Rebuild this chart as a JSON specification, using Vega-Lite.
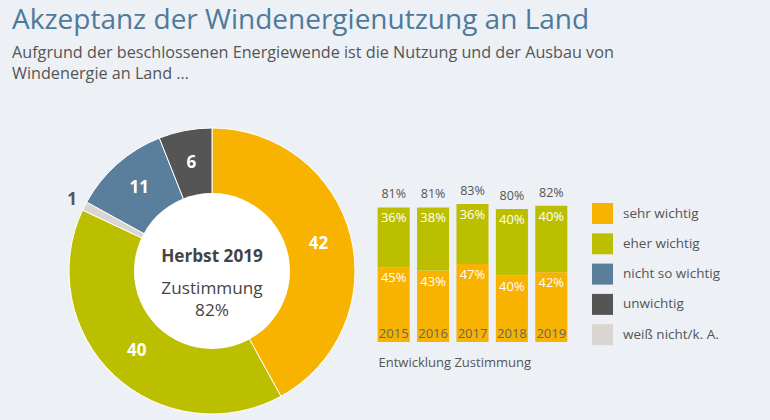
{
  "$schema": "https://vega.github.io/schema/vega-lite/v6.json",
  "background": "#edf0f5",
  "padding": {"left": 12, "top": 7, "right": 60, "bottom": 6},
  "autosize": {"type": "pad"},
  "title": {
    "text": "Akzeptanz der Windenergienutzung an Land",
    "subtitle": ["Aufgrund der beschlossenen Energiewende ist die Nutzung und der Ausbau von", "Windenergie an Land …"],
    "anchor": "start",
    "dx": -40,
    "font": "Open Sans",
    "fontSize": 28,
    "fontWeight": 400,
    "color": "#4e7a9b",
    "subtitleFont": "Open Sans",
    "subtitleFontSize": 16.2,
    "subtitleColor": "#555555",
    "subtitleLineHeight": 21.5,
    "subtitlePadding": 9.4,
    "offset": 25.5
  },
  "spacing": 0,
  "config": {"view": {"stroke": null}, "text": {"font": "Open Sans"}},
  "resolve": {"scale": {"color": "independent"}},
  "hconcat": [
    {
      "width": 320,
      "height": 290,
      "data": {"values": [
        {"category": "sehr wichtig", "value": 42, "rank": 1},
        {"category": "eher wichtig", "value": 40, "rank": 2},
        {"category": "weiß nicht/k. A.", "value": 1, "rank": 3},
        {"category": "nicht so wichtig", "value": 11, "rank": 4},
        {"category": "unwichtig", "value": 6, "rank": 5}
      ]},
      "layer": [
        {
          "mark": {"type": "arc", "outerRadius": 143, "stroke": "#ffffff", "strokeWidth": 1},
          "encoding": {
            "theta": {"field": "value", "type": "quantitative", "stack": true},
            "order": {"field": "rank", "type": "quantitative"},
            "color": {"field": "category", "type": "nominal", "legend": null,
              "scale": {"domain": ["sehr wichtig", "eher wichtig", "nicht so wichtig", "unwichtig", "weiß nicht/k. A."],
                        "range": ["#f8b200", "#bcbf00", "#5a7f9c", "#555556", "#d9d5d1"]}}
          }
        },
        {
          "data": {"values": [{"disc": 1}]},
          "mark": {"type": "arc", "radius": 78, "theta": 0, "theta2": 6.2832, "fill": "#ffffff"},
          "encoding": {}
        },
        {
          "mark": {"type": "text", "radius": 110, "fontSize": 17, "fontWeight": "bold", "fill": "#ffffff"},
          "encoding": {
            "theta": {"field": "value", "type": "quantitative", "stack": true},
            "order": {"field": "rank", "type": "quantitative"},
            "text": {"field": "value", "type": "quantitative"},
            "opacity": {"condition": {"test": "datum.value > 1", "value": 1}, "value": 0}
          }
        },
        {
          "mark": {"type": "text", "radius": 157, "fontSize": 17, "fontWeight": "bold", "fill": "#555555"},
          "encoding": {
            "theta": {"field": "value", "type": "quantitative", "stack": true},
            "order": {"field": "rank", "type": "quantitative"},
            "text": {"field": "value", "type": "quantitative"},
            "opacity": {"condition": {"test": "datum.value <= 1", "value": 1}, "value": 0}
          }
        },
        {
          "data": {"values": [{"line": "Herbst 2019"}]},
          "mark": {"type": "text", "fontSize": 17.2, "fontWeight": "bold", "fill": "#444444", "dy": -14},
          "encoding": {"text": {"field": "line", "type": "nominal"}}
        },
        {
          "data": {"values": [{"line": "Zustimmung"}]},
          "mark": {"type": "text", "fontSize": 17.2, "fill": "#444444", "dy": 18},
          "encoding": {"text": {"field": "line", "type": "nominal"}}
        },
        {
          "data": {"values": [{"line": "82%"}]},
          "mark": {"type": "text", "fontSize": 17.2, "fill": "#444444", "dy": 40},
          "encoding": {"text": {"field": "line", "type": "nominal"}}
        }
      ]
    },
    {
      "width": 197,
      "height": 216,
      "data": {"values": [
        {"year": "2015", "category": "sehr wichtig", "value": 0.45},
        {"year": "2015", "category": "eher wichtig", "value": 0.36},
        {"year": "2016", "category": "sehr wichtig", "value": 0.43},
        {"year": "2016", "category": "eher wichtig", "value": 0.38},
        {"year": "2017", "category": "sehr wichtig", "value": 0.47},
        {"year": "2017", "category": "eher wichtig", "value": 0.36},
        {"year": "2018", "category": "sehr wichtig", "value": 0.40},
        {"year": "2018", "category": "eher wichtig", "value": 0.40},
        {"year": "2019", "category": "sehr wichtig", "value": 0.42},
        {"year": "2019", "category": "eher wichtig", "value": 0.40}
      ]},
      "encoding": {
        "x": {"field": "year", "type": "ordinal",
          "scale": {"paddingInner": 0.186, "paddingOuter": 0.093},
          "axis": {"labels": false, "ticks": false, "domain": false, "title": "Entwicklung Zustimmung",
                   "titleAnchor": "start", "titleAlign": "left", "titleX": 4, "titlePadding": 14,
                   "titleFont": "Open Sans", "titleFontSize": 13, "titleFontWeight": 400, "titleColor": "#555555"}}
      },
      "layer": [
        {
          "mark": {"type": "bar"},
          "encoding": {
            "y": {"field": "value", "type": "quantitative", "stack": "zero", "scale": {"domain": [0, 1.254]}, "axis": null},
            "order": {"field": "category", "sort": "descending"},
            "color": {"field": "category", "type": "nominal",
              "scale": {"domain": ["sehr wichtig", "eher wichtig", "nicht so wichtig", "unwichtig", "weiß nicht/k. A."],
                        "range": ["#f8b200", "#bcbf00", "#5a7f9c", "#555556", "#d9d5d1"]},
              "legend": {"orient": "none", "legendX": 218, "legendY": 77, "title": null,
                         "symbolType": "square", "symbolSize": 441, "symbolStrokeWidth": 0, "symbolOpacity": 1,
                         "labelFont": "Open Sans", "labelFontSize": 13.5, "labelColor": "#555555",
                         "labelOffset": 10, "rowPadding": 9.3, "padding": 0}}
          }
        },
        {
          "mark": {"type": "text", "dy": 11, "fontSize": 13, "fill": "#ffffff"},
          "encoding": {
            "y": {"field": "value", "type": "quantitative", "stack": "zero"},
            "order": {"field": "category", "sort": "descending"},
            "detail": {"field": "category"},
            "text": {"field": "value", "type": "quantitative", "format": ".0%"}
          }
        },
        {
          "mark": {"type": "text", "dy": -13, "fontSize": 12.5, "fill": "#555555"},
          "encoding": {
            "y": {"aggregate": "sum", "field": "value", "type": "quantitative"},
            "text": {"aggregate": "sum", "field": "value", "type": "quantitative", "format": ".0%"}
          }
        },
        {
          "transform": [{"filter": "datum.category === 'sehr wichtig'"}],
          "mark": {"type": "text", "dy": -8, "fontSize": 13, "fill": "#666666"},
          "encoding": {
            "y": {"datum": 0, "type": "quantitative"},
            "text": {"field": "year", "type": "nominal"}
          }
        }
      ]
    }
  ]
}
